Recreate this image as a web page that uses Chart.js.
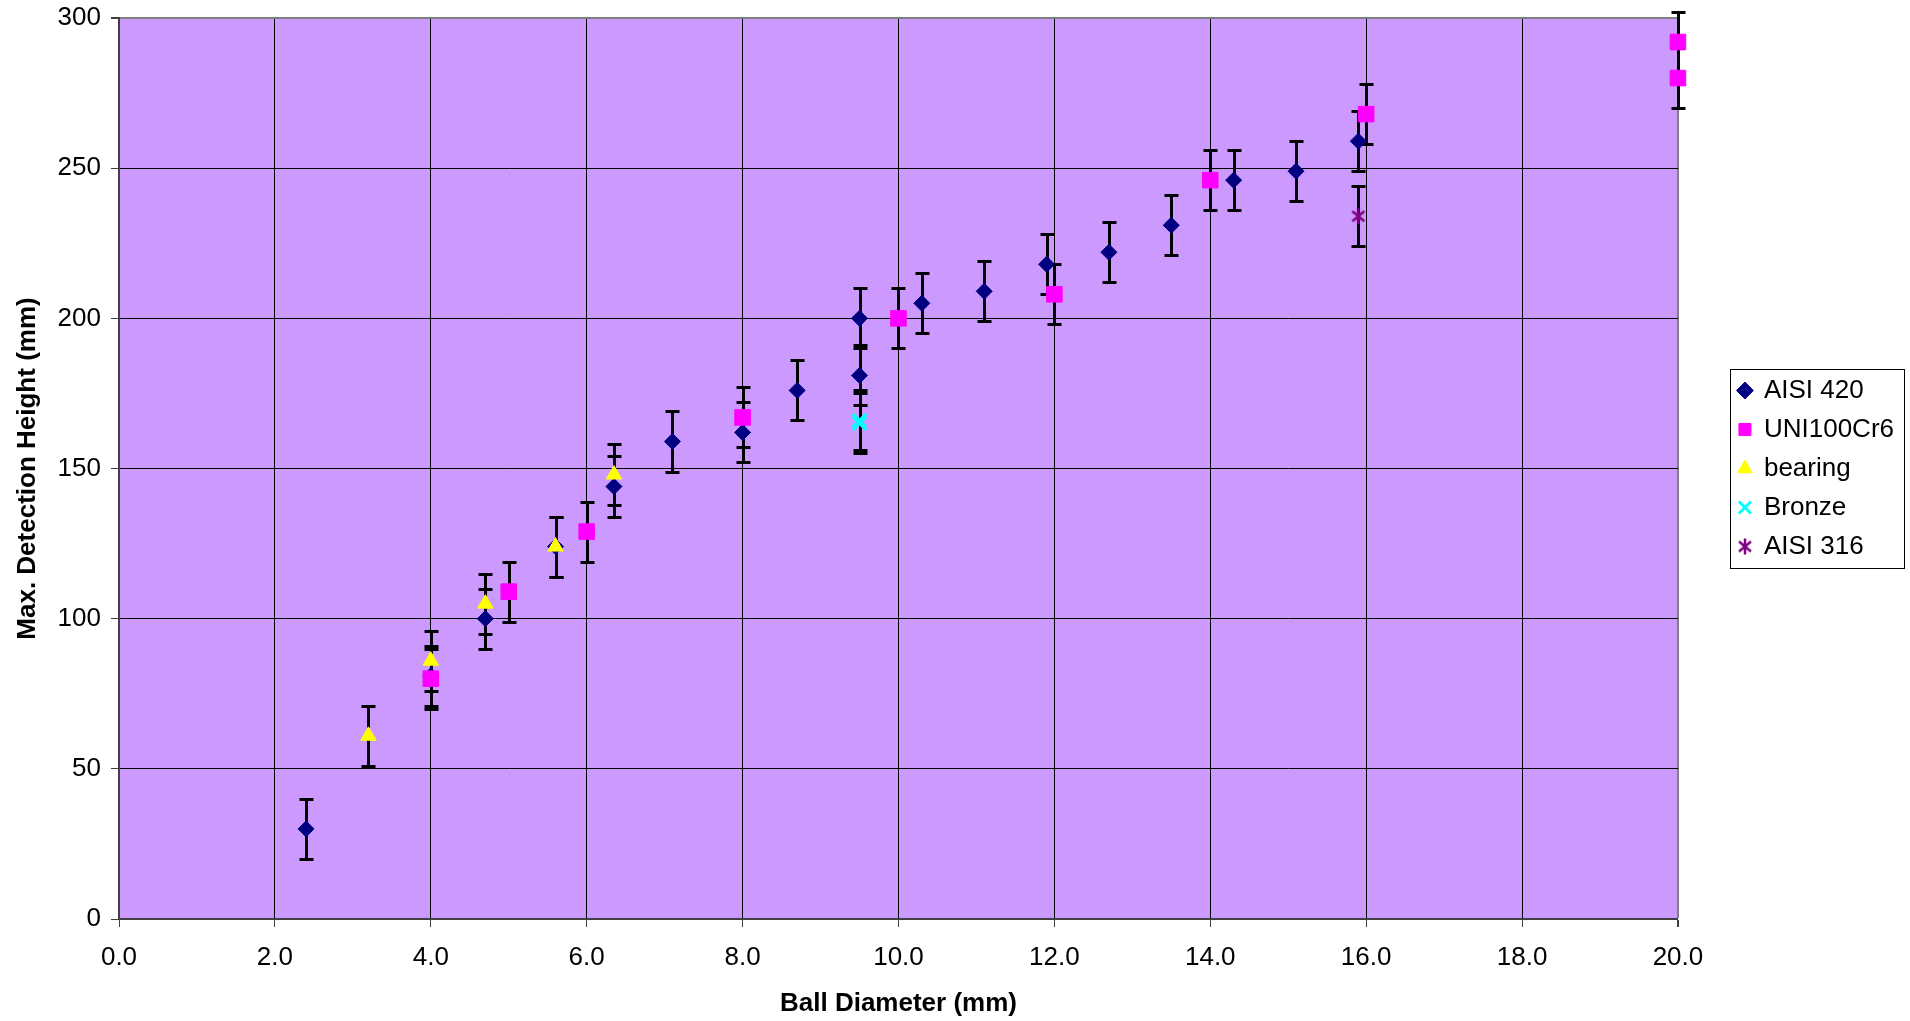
<!DOCTYPE html>
<html>
<head>
<meta charset="utf-8">
<title>Max. Detection Height vs Ball Diameter</title>
<script src="https://cdn.jsdelivr.net/npm/chart.js@4.4.1/dist/chart.umd.min.js"></script>
<style>
  html, body { margin: 0; padding: 0; background: #fff; }
</style>
</head>
<body>
<canvas id="detectionChart" width="1910" height="1021"></canvas>
<script>
// ball diameters (mm) and max detection heights (mm)
const aisi420X = [2.4, 4.0, 4.7, 5.6, 6.35, 7.1, 8.0, 8.7, 9.5, 9.5, 10.3, 11.1, 11.9, 12.7, 13.5, 14.3, 15.1, 15.9];
const aisi420Y = [30, 81, 100, 124, 144, 159, 162, 176, 200, 181, 205, 209, 218, 222, 231, 246, 249, 259];
const uniX = [4.0, 5.0, 6.0, 8.0, 10.0, 12.0, 14.0, 16.0, 20.0, 20.0];
const uniY = [80, 109, 129, 167, 200, 208, 246, 268, 292, 280];
const bearingX = [3.2, 4.0, 4.7, 5.6, 6.35];
const bearingY = [61, 86, 105, 124, 148];
const bronzeX = [9.5, 9.5];
const bronzeY = [166, 165];
const aisi316X = [15.9];
const aisi316Y = [234];
const errorMargin = 10; // +/- mm on every point

const seriesNames = ["AISI 420", "UNI100Cr6", "bearing", "Bronze", "AISI 316"];
const xTickValues = [0, 2, 4, 6, 8, 10, 12, 14, 16, 18, 20];
const xTickLabels = ["0.0", "2.0", "4.0", "6.0", "8.0", "10.0", "12.0", "14.0", "16.0", "18.0", "20.0"];
const yTickValues = [0, 50, 100, 150, 200, 250, 300];
const yTickLabels = ["0", "50", "100", "150", "200", "250", "300"];

const FONT = "'Liberation Sans', Arial, sans-serif";
const legendGap = 48;

function toPoints(xs, ys) {
  return xs.map((x, i) => ({ x: x, y: ys[i] }));
}

// asterisk marker (x with a vertical stroke) for AISI 316
const asterisk = document.createElement("canvas");
asterisk.width = 16;
asterisk.height = 18;
(function () {
  const c = asterisk.getContext("2d");
  c.strokeStyle = "#800080";
  c.lineWidth = 2.5;
  c.beginPath();
  c.moveTo(2, 4); c.lineTo(14, 14);
  c.moveTo(14, 4); c.lineTo(2, 14);
  c.moveTo(8, 1); c.lineTo(8, 17);
  c.stroke();
})();

const plotBackground = {
  id: "plotBackground",
  beforeDraw(chart) {
    const { ctx, chartArea: a } = chart;
    ctx.save();
    ctx.fillStyle = "#CC99FF";
    ctx.fillRect(a.left, a.top, a.width, a.height);
    ctx.restore();
  },
};

const errorBars = {
  id: "errorBars",
  beforeDatasetsDraw(chart) {
    const { ctx, scales } = chart;
    ctx.save();
    ctx.strokeStyle = "#000";
    ctx.lineWidth = 3;
    chart.data.datasets.forEach((ds) => {
      ds.data.forEach((p) => {
        const px = Math.round(scales.x.getPixelForValue(p.x)) + 0.5;
        const top = Math.round(scales.y.getPixelForValue(p.y + errorMargin)) + 0.5;
        const bottom = Math.round(scales.y.getPixelForValue(p.y - errorMargin)) + 0.5;
        ctx.beginPath();
        ctx.moveTo(px, top); ctx.lineTo(px, bottom);
        ctx.moveTo(px - 7, top); ctx.lineTo(px + 7, top);
        ctx.moveTo(px - 7, bottom); ctx.lineTo(px + 7, bottom);
        ctx.stroke();
      });
    });
    ctx.restore();
  },
};

// move the legend away from the plot and frame it
const legendFrame = {
  id: "legendFrame",
  afterLayout(chart) {
    chart.legend.left += legendGap;
    chart.legend.right += legendGap;
  },
  afterDraw(chart) {
    const boxes = chart.legend.legendHitBoxes;
    if (!boxes || !boxes.length) return;
    const ctx = chart.ctx;
    const left = Math.min(...boxes.map((b) => b.left)) - 9;
    const right = Math.max(...boxes.map((b) => b.left + b.width)) + 10;
    const last = boxes[boxes.length - 1];
    const top = boxes[0].top - 9;
    const bottom = last.top + last.height + 8;
    ctx.save();
    ctx.strokeStyle = "#000";
    ctx.lineWidth = 1;
    ctx.strokeRect(Math.round(left) + 0.5, Math.round(top) + 0.5, Math.round(right - left), Math.round(bottom - top));
    ctx.restore();
  },
};

const ctx = document.getElementById("detectionChart").getContext("2d");

new Chart(ctx, {
  type: "scatter",
  data: {
    datasets: [
      {
        label: seriesNames[0],
        data: toPoints(aisi420X, aisi420Y),
        pointStyle: "rectRot",
        pointRadius: 8,
        backgroundColor: "#000080",
        borderColor: "#000080",
        borderWidth: 1,
        order: 5,
      },
      {
        label: seriesNames[1],
        data: toPoints(uniX, uniY),
        pointStyle: "rect",
        pointRadius: 11,
        backgroundColor: "#FF00FF",
        borderColor: "#FF00FF",
        borderWidth: 1,
        order: 4,
      },
      {
        label: seriesNames[2],
        data: toPoints(bearingX, bearingY),
        pointStyle: "triangle",
        pointRadius: 9,
        backgroundColor: "#FFFF00",
        borderColor: "#FFFF00",
        borderWidth: 1,
        order: 3,
      },
      {
        label: seriesNames[3],
        data: toPoints(bronzeX, bronzeY),
        pointStyle: "crossRot",
        pointRadius: 9.5,
        backgroundColor: "#00FFFF",
        borderColor: "#00FFFF",
        borderWidth: 3,
        order: 2,
      },
      {
        label: seriesNames[4],
        data: toPoints(aisi316X, aisi316Y),
        pointStyle: asterisk,
        pointRadius: 9,
        backgroundColor: "#800080",
        borderColor: "#800080",
        borderWidth: 2,
        order: 1,
      },
    ],
  },
  options: {
    responsive: false,
    animation: false,
    clip: false,
    layout: { padding: { top: 18, left: 0, bottom: 0, right: 54 } },
    plugins: {
      legend: {
        display: true,
        position: "right",
        fullSize: false,
        labels: {
          usePointStyle: true,
          boxWidth: 12,
          boxHeight: 12,
          padding: 13,
          color: "#000",
          font: { family: FONT, size: 26 },
          sort: (a, b) => a.datasetIndex - b.datasetIndex,
        },
      },
      tooltip: { enabled: false },
    },
    scales: {
      x: {
        type: "linear",
        min: 0,
        max: 20,
        afterFit: (scale) => {
          scale.height = 102;
          scale.paddingLeft = 0;
          scale.paddingRight = 0;
        },
        afterBuildTicks: (scale) => { scale.ticks = xTickValues.map((v) => ({ value: v })); },
        ticks: {
          color: "#000",
          padding: 15,
          maxRotation: 0,
          font: { family: FONT, size: 26 },
          callback: (value, index) => xTickLabels[index],
        },
        grid: {
          color: (c) => (c.tick && c.tick.value === 20 ? "#808080" : "#000"),
          lineWidth: (c) => (c.tick && c.tick.value === 20 ? 2 : 1),
          tickColor: "#404040",
          tickLength: 8,
        },
        border: { color: "#404040", width: 2 },
        title: {
          display: true,
          text: "Ball Diameter (mm)",
          color: "#000",
          padding: { top: 4, bottom: 2 },
          font: { family: FONT, size: 26, weight: "bold" },
        },
      },
      y: {
        type: "linear",
        min: 0,
        max: 300,
        afterFit: (scale) => {
          scale.width = 119;
          scale.paddingTop = 0;
          scale.paddingBottom = 0;
        },
        afterBuildTicks: (scale) => { scale.ticks = yTickValues.map((v) => ({ value: v })); },
        ticks: {
          color: "#000",
          padding: 10,
          font: { family: FONT, size: 26 },
          callback: (value, index) => yTickLabels[index],
        },
        grid: {
          color: (c) => (c.tick && c.tick.value === 300 ? "#808080" : "#000"),
          lineWidth: (c) => (c.tick && c.tick.value === 300 ? 2 : 1),
          tickColor: "#404040",
          tickLength: 8,
        },
        border: { color: "#404040", width: 2 },
        title: {
          display: true,
          text: "Max. Detection Height (mm)",
          color: "#000",
          padding: { top: 12, bottom: 4 },
          font: { family: FONT, size: 26, weight: "bold" },
        },
      },
    },
  },
  plugins: [plotBackground, errorBars, legendFrame],
});
</script>
</body>
</html>
